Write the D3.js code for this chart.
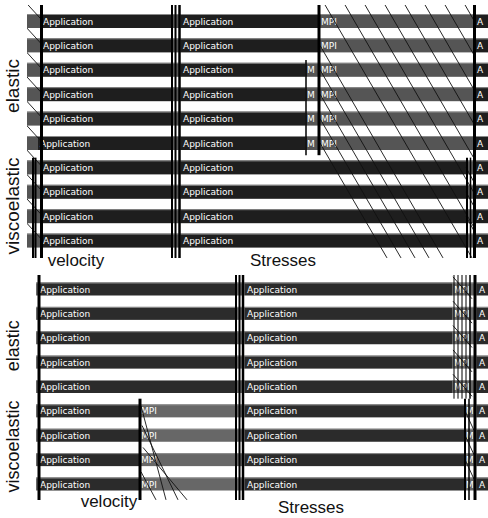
<!DOCTYPE html>
<html><head><meta charset="utf-8">
<script src="https://cdn.jsdelivr.net/npm/d3@7"></script>
<style>html,body{margin:0;padding:0;background:#fff}</style>
</head><body><svg id="chart" width="488" height="518"></svg>
<script>
// ---------- data ----------
const groupNames = ["elastic", "viscoelastic"];
const topGroupRows = [6, 4];
const bottomGroupRows = [5, 4];
const phaseNames = ["velocity", "Stresses"];

// Per-process state timelines: [start time (s), state]; each state lasts until the next start.
// A negative start means the state began before the visible window.
const topTimelines = [
  [[-2,"MPI"],[1.4,"Application"],[14.4,"MPI"],[15.4,"Application"],[29.2,"MPI"],[44.8,"Application"]],
  [[-2,"MPI"],[1.4,"Application"],[14.4,"MPI"],[15.4,"Application"],[29.2,"MPI"],[44.8,"Application"]],
  [[-2,"MPI"],[1.4,"Application"],[14.4,"MPI"],[15.4,"Application"],[27.8,"MPI"],[29.2,"MPI"],[44.8,"Application"]],
  [[-2,"MPI"],[1.4,"Application"],[14.4,"MPI"],[15.4,"Application"],[27.8,"MPI"],[29.2,"MPI"],[44.8,"Application"]],
  [[-2,"MPI"],[1.4,"Application"],[14.4,"MPI"],[15.4,"Application"],[27.8,"MPI"],[29.2,"MPI"],[44.8,"Application"]],
  [[-2,"MPI"],[1.1,"Application"],[14.4,"MPI"],[15.4,"Application"],[27.8,"MPI"],[29.2,"MPI"],[44.8,"Application"]],
  [[-2,"MPI"],[1.4,"Application"],[14.4,"MPI"],[15.4,"Application"],[43.9,"MPI"],[44.8,"Application"]],
  [[-2,"MPI"],[1.4,"Application"],[14.4,"MPI"],[15.4,"Application"],[43.9,"MPI"],[44.8,"Application"]],
  [[-2,"MPI"],[1.4,"Application"],[14.4,"MPI"],[15.4,"Application"],[43.9,"MPI"],[44.8,"Application"]],
  [[-2,"MPI"],[1.4,"Application"],[14.4,"MPI"],[15.4,"Application"],[43.9,"MPI"],[44.8,"Application"]]
];
const topEndTime = 46.1;

const bottomTimelines = [
  [[-2,"MPI"],[0.2,"Application"],[19.9,"MPI"],[20.9,"Application"],[41.6,"MPI"],[44.1,"Application"]],
  [[-2,"MPI"],[0.2,"Application"],[19.9,"MPI"],[20.9,"Application"],[41.6,"MPI"],[44.1,"Application"]],
  [[-2,"MPI"],[0.2,"Application"],[19.9,"MPI"],[20.9,"Application"],[41.6,"MPI"],[44.1,"Application"]],
  [[-2,"MPI"],[0.2,"Application"],[19.9,"MPI"],[20.9,"Application"],[41.6,"MPI"],[44.1,"Application"]],
  [[-2,"MPI"],[0.2,"Application"],[19.9,"MPI"],[20.9,"Application"],[41.6,"MPI"],[44.1,"Application"]],
  [[-2,"MPI"],[0.2,"Application"],[10.3,"MPI"],[20.9,"Application"],[42.8,"MPI"],[44.1,"Application"]],
  [[-2,"MPI"],[0.2,"Application"],[10.3,"MPI"],[20.9,"Application"],[42.8,"MPI"],[44.1,"Application"]],
  [[-2,"MPI"],[0.2,"Application"],[10.3,"MPI"],[20.9,"Application"],[42.8,"MPI"],[44.1,"Application"]],
  [[-2,"MPI"],[0.2,"Application"],[10.3,"MPI"],[20.9,"Application"],[42.8,"MPI"],[44.1,"Application"]]
];
const bottomEndTime = 45.2;

// Collective / synchronisation markers: [time, from process, to process, weight]
const topMarkers = [
  [1.45,-0.7,9.8,3],[14.5,-0.7,9.8,2],[14.85,-0.7,9.8,2],[15.25,-0.7,9.8,2.5],
  [29.2,-0.7,5.5,3],[27.9,1.6,5.5,1.5],[44.75,-0.7,9.8,3],
  [44.0,5.6,9.8,2],[44.35,5.6,9.8,1.5],[0.6,5.6,9.8,2],[0.85,5.6,9.8,2]
];
const bottomMarkers = [
  [0.3,-0.6,8.7,3],[20.0,-0.6,8.7,2],[20.35,-0.6,8.7,2],[20.7,-0.6,8.7,2.5],
  [10.4,4.5,8.7,3],[43.9,-0.6,8.7,3],
  [41.8,-0.6,4.5,1],[42.2,-0.6,4.5,1],[42.6,-0.6,4.5,1],[43.0,-0.6,4.5,1],[43.4,-0.6,4.5,1.5],
  [42.9,4.5,8.7,2],[43.3,4.5,8.7,1.5]
];

// Point-to-point messages: [send time, sender, receive time, receiver]
const topMessages = [
  [-0.1,-0.75,1.35,-0.1],[-0.1,0.25,1.35,0.9],[-0.1,1.25,1.35,1.9],[-0.1,2.25,1.35,2.9],
  [-0.1,3.25,1.35,3.9],[-0.1,4.25,1.35,4.9],[-0.1,5.25,1.35,5.9],[-0.1,6.25,1.35,6.9],
  [-0.1,7.25,1.35,7.9],[-0.1,8.25,1.35,8.9],
  [29.8,-0.66,44.5,9.71],[31.8,-0.66,44.7,8.46],[33.8,-0.66,44.7,7.04],[35.8,-0.66,44.7,5.63],
  [37.8,-0.66,44.7,4.22],[39.8,-0.66,44.7,2.81],[41.8,-0.66,44.7,1.39],[43.8,-0.66,44.7,-0.02],
  [29.3,1,41.6,9.71],[29.3,2,40.2,9.71],[29.3,3,38.8,9.71],[29.3,4,37.4,9.71],[29.3,5,36.0,9.71],
  [43.9,6,44.7,6.6],[43.9,7,44.7,7.6],[43.9,8,44.7,8.6]
];
const bottomMessages = [
  [10.5,4.8,13.0,8.65],[10.6,5.6,14.2,8.65],[10.7,6.5,15.1,8.65],[10.5,7.5,12.0,8.65],
  [41.7,-0.5,43.6,0.4],[41.7,0.5,43.6,1.4],[41.7,1.5,43.6,2.4],[41.7,2.5,43.6,3.4],[41.7,3.5,43.6,4.4],
  [42.9,5,43.8,5.8],[42.9,6,43.8,6.8],[42.9,7,43.8,7.8]
];

// ---------- drawing ----------
const svg = d3.select("#chart");
svg.append("rect").attr("width", 488).attr("height", 518).attr("fill", "#fff");

// shorten a state name until it fits inside its bar
function fitLabel(node, avail) {
  let s = node.textContent;
  while (s.length && node.getComputedTextLength() > avail) {
    s = s.slice(0, -1);
    node.textContent = s;
  }
  if (!s.length) node.remove();
}

function drawPanel(p) {
  const x = d3.scaleLinear().domain([0, p.endTime]).range([p.left, 488]);
  const n = p.timelines.length;
  const y = d3.scaleLinear().domain([0, n - 1]).range([p.firstRow, p.lastRow]);
  const colour = d3.scaleOrdinal().domain(["Application", "MPI"]).range(p.colours);

  const clipId = "clip-" + p.id;
  svg.append("clipPath").attr("id", clipId)
    .append("rect").attr("x", p.left).attr("y", p.top)
    .attr("width", 488 - p.left).attr("height", p.bottom - p.top);

  const g = svg.append("g").attr("clip-path", `url(#${clipId})`);

  const segments = [];
  p.timelines.forEach((tl, r) => {
    tl.forEach((s, i) => {
      const end = i < tl.length - 1 ? tl[i + 1][0] : p.endTime;
      segments.push({ row: r, start: s[0], end, state: s[1] });
    });
  });

  const h = p.barHeight;
  const seg = g.selectAll("g.seg").data(segments).join("g").attr("class", "seg");
  seg.append("rect")
    .attr("x", d => x(d.start)).attr("y", d => y(d.row) - h / 2)
    .attr("width", d => x(d.end) - x(d.start)).attr("height", h)
    .attr("fill", d => colour(d.state));
  seg.append("line")
    .attr("x1", d => x(d.start)).attr("x2", d => x(d.end))
    .attr("y1", d => y(d.row) - h / 2 + 0.5).attr("y2", d => y(d.row) - h / 2 + 0.5)
    .attr("stroke", p.edge).attr("stroke-width", 1);
  seg.filter(d => d.start >= 0).append("text")
    .attr("x", d => x(d.start) + 2).attr("y", d => y(d.row) + 3.5)
    .attr("fill", "#fff").attr("font-family", "DejaVu Sans, Verdana, sans-serif")
    .attr("font-size", 9).text(d => d.state)
    .each(function (d) { fitLabel(this, Math.min(x(d.end), 488) - x(d.start) - 2.5); });

  g.selectAll("line.msg").data(p.messages).join("line").attr("class", "msg")
    .attr("x1", d => x(d[0])).attr("y1", d => y(d[1]))
    .attr("x2", d => x(d[2])).attr("y2", d => y(d[3]))
    .attr("stroke", "#111").attr("stroke-width", 0.9);

  g.selectAll("line.mark").data(p.markers).join("line").attr("class", "mark")
    .attr("x1", d => x(d[0])).attr("x2", d => x(d[0]))
    .attr("y1", d => y(d[1])).attr("y2", d => y(d[2]))
    .attr("stroke", "#000").attr("stroke-width", d => d[3]);

  // group labels down the left side
  let acc = 0;
  p.groupRows.forEach((cnt, gi) => {
    const mid = (y(acc) + y(acc + cnt - 1)) / 2 + p.groupShift[gi];
    acc += cnt;
    svg.append("text")
      .attr("transform", `translate(${p.groupX},${mid}) rotate(-90)`)
      .attr("text-anchor", "middle").attr("font-family", "Liberation Sans, Arial, sans-serif")
      .attr("font-size", p.groupFont).attr("fill", "#111").text(groupNames[gi]);
  });

  phaseNames.forEach((name, i) => {
    svg.append("text")
      .attr("x", p.phaseX[i]).attr("y", p.phaseY[i])
      .attr("text-anchor", "middle").attr("font-family", "Liberation Sans, Arial, sans-serif")
      .attr("font-size", p.phaseFont).attr("fill", "#111").text(name);
  });
}

drawPanel({
  id: "top", timelines: topTimelines, endTime: topEndTime,
  left: 27, top: 5, bottom: 258, firstRow: 21, lastRow: 240.6, barHeight: 14,
  colours: ["#1e1e1e", "#555555"], edge: "#8a8a8a",
  markers: topMarkers, messages: topMessages,
  groupRows: topGroupRows, groupX: 19, groupShift: [4, 2], groupFont: 19,
  phaseX: [76, 283], phaseY: [266, 266], phaseFont: 17
});

drawPanel({
  id: "bottom", timelines: bottomTimelines, endTime: bottomEndTime,
  left: 36, top: 275, bottom: 500, firstRow: 289, lastRow: 484, barHeight: 13,
  colours: ["#2b2b2b", "#676767"], edge: "#909090",
  markers: bottomMarkers, messages: bottomMessages,
  groupRows: bottomGroupRows, groupX: 19, groupShift: [8, -1], groupFont: 18,
  phaseX: [109, 311], phaseY: [507, 513], phaseFont: 17
});
</script></body></html>
